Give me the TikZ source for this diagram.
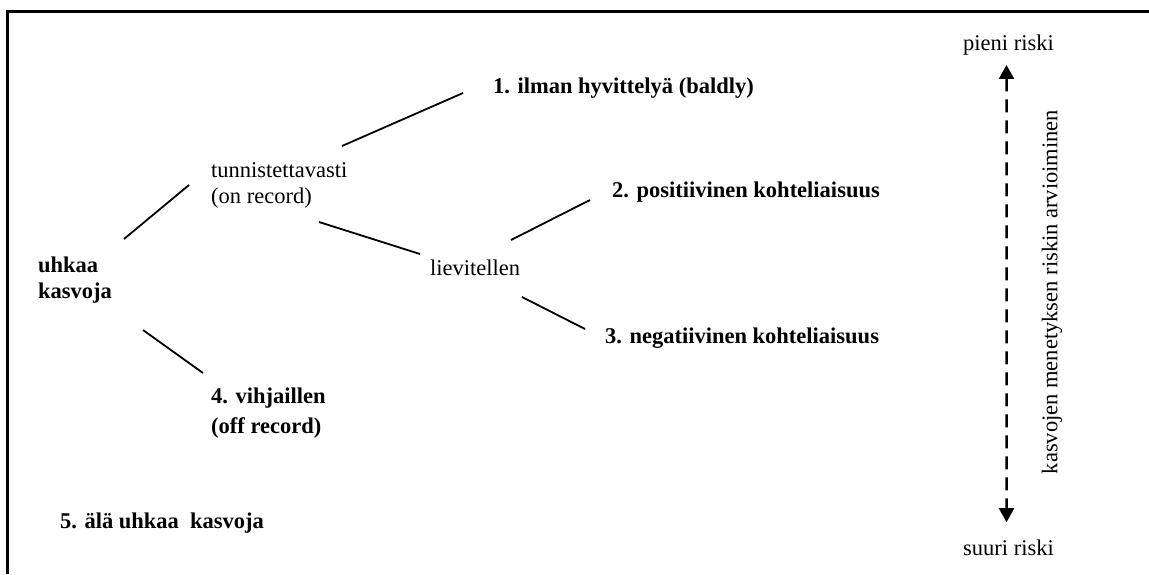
\documentclass[tikz,border=0pt]{standalone}
\usepackage{fontspec}
\setmainfont{Liberation Serif}
\usepackage{tikz}
\usetikzlibrary{arrows.meta}
\tikzstyle{choice} = [inner sep=0pt, anchor=base west, align=left, font=\fontsize{22.5}{26}\selectfont]
\tikzstyle{strategy} = [choice, font=\fontsize{22.5}{26}\selectfont\bfseries]
\tikzstyle{branch} = [line width=1.8pt]
\tikzstyle{riskarrow} = [line width=2.5pt, dash pattern=on 13pt off 8pt, {Triangle[width=15pt,length=14pt]}-{Triangle[width=15pt,length=14pt]}]

\begin{document}
\begin{tikzpicture}[x=1pt, y=-1pt]
        \useasboundingbox (0,0) rectangle (1149,574);
        \draw [line width=3pt] (7,574) -- (7,11) -- (1149,11);
        % multi-line nodes sit on the baseline of their last line
        \node (uhkaa) [strategy] at (38,298) {uhkaa\\kasvoja};
        \node (tunn) [choice] at (211,203) {tunnistettavasti\\(on record)};
        \node (baldly) [strategy] at (493,93) {1. ilman hyvittelyä (baldly)};
        \node (liev) [choice] at (430,275) {lievitellen};
        \node (pos) [strategy] at (612,197) {2. positiivinen kohteliaisuus};
        \node (neg) [strategy] at (605,343) {3. negatiivinen kohteliaisuus};
        \node (vihj) [strategy, font=\fontsize{22.5}{30}\selectfont\bfseries] at (211,433) {4. vihjaillen\\(off record)};
        \node (ala) [strategy] at (60,528) {5. älä uhkaa\ \ kasvoja};
        \node (pieni) [choice] at (963,50) {pieni riski};
        \node (suuri) [choice] at (963,555) {suuri riski};
        \node (arvio) [choice, anchor=center, rotate=90] at (1052,292) {kasvojen menetyksen riskin arvioiminen};
        \draw [branch] ([shift={(86,-59)}]uhkaa.base west) -- ([shift={(-22,-18)}]tunn.base west);
        \draw [branch] ([shift={(131,-57)}]tunn.base west) -- ([shift={(-30,0)}]baldly.base west);
        \draw [branch] ([shift={(108,19)}]tunn.base west) -- ([shift={(-10,-21)}]liev.base west);
        \draw [branch] ([shift={(81,-35)}]liev.base west) -- ([shift={(-22,3)}]pos.base west);
        \draw [branch] ([shift={(92,22)}]liev.base west) -- ([shift={(-20,-14)}]neg.base west);
        \draw [branch] ([shift={(105,32)}]uhkaa.base west) -- ([shift={(-8,-60)}]vihj.base west);
        \draw [riskarrow, shorten <=10pt, shorten >=17pt] ([xshift=-2pt]pieni.south) -- ([xshift=-2pt]suuri.north);
    \end{tikzpicture}
\end{document}
